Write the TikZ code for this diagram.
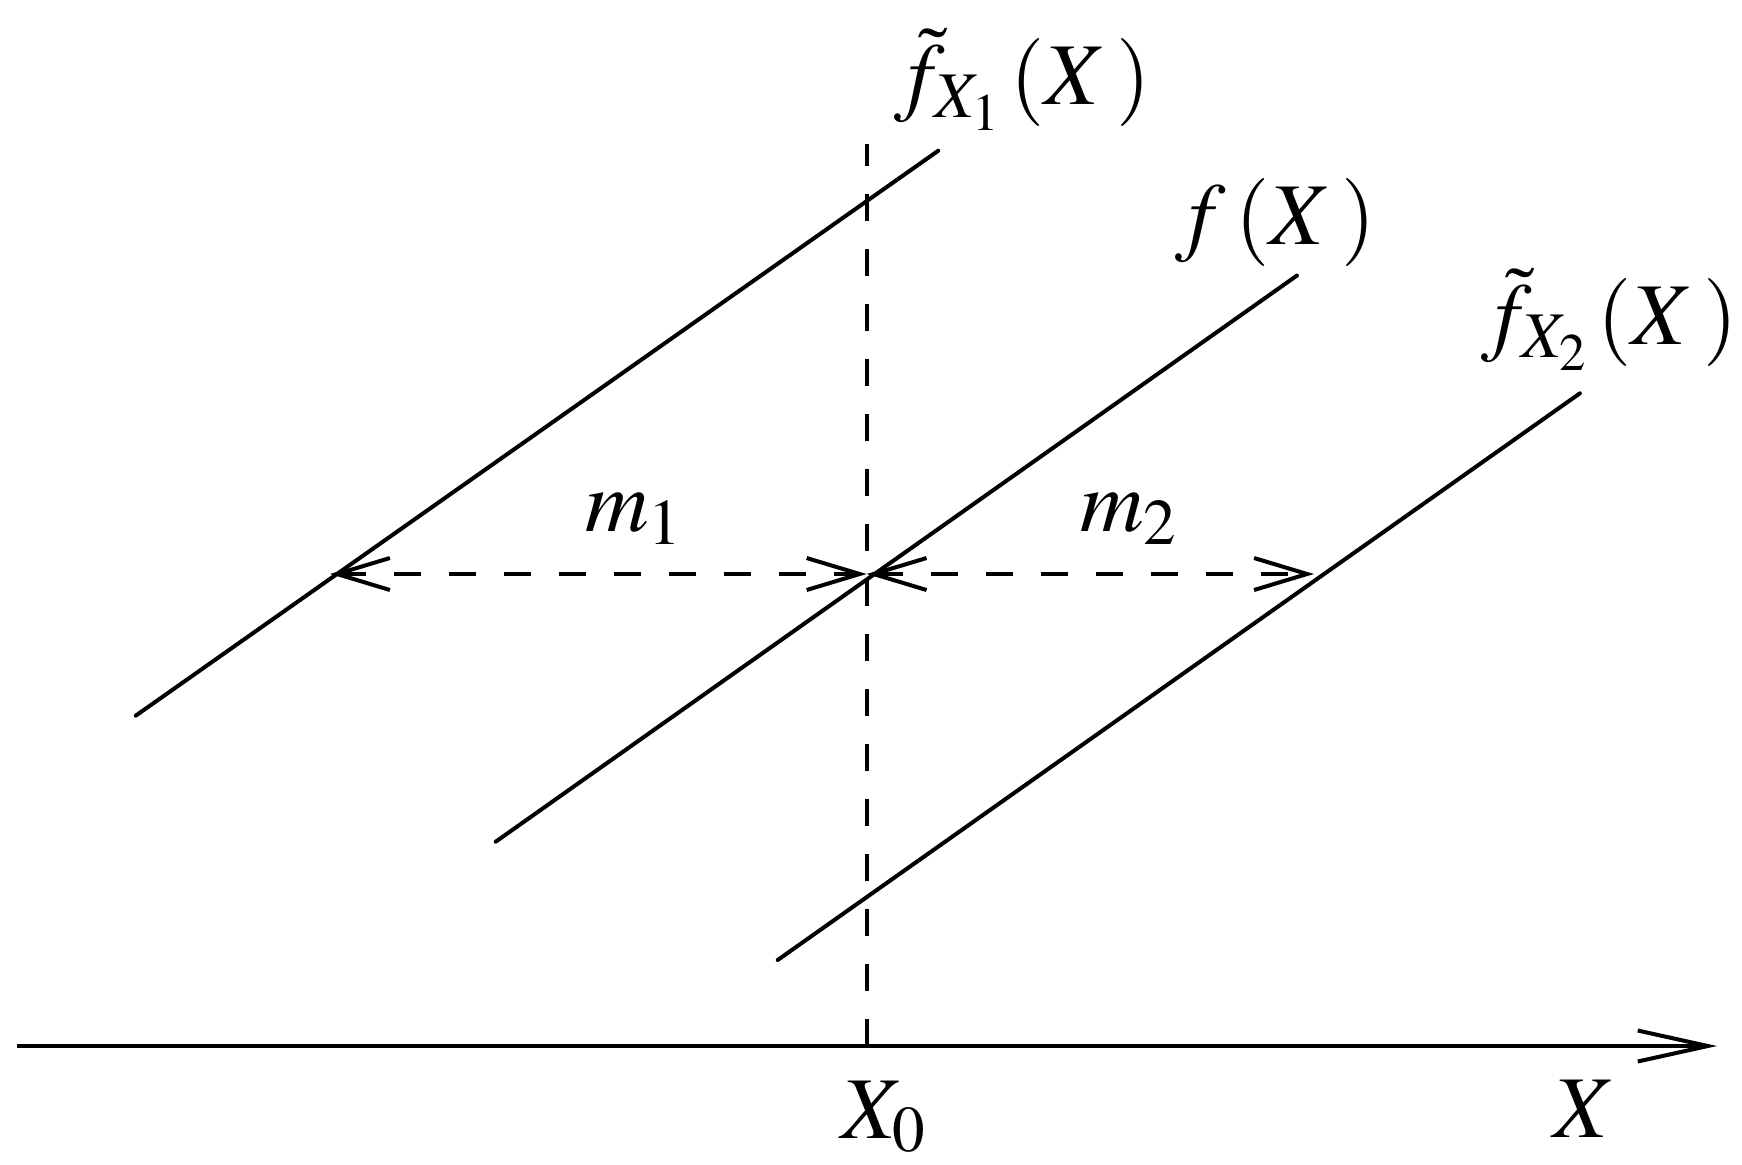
\documentclass[tikz,border=0pt]{standalone}
\usepackage{mathptmx}
\usetikzlibrary{arrows.meta}
\begin{document}
\begin{tikzpicture}[x=0.5pt,y=-0.5pt,
  ln/.style={line width=2pt},
  dsh/.style={line width=2pt, dash pattern=on 13.5pt off 14pt},
  hd/.tip={Straight Barb[length=26.5pt,width=16pt,line width=2pt]},
  ax/.tip={Straight Barb[length=35pt,width=15.5pt,line width=2pt]},
  lbl/.style={anchor=base west, inner sep=0pt, font=\fontsize{44}{52}\selectfont}]
\useasboundingbox (0,0) rectangle (1742,1164);
% coordinates
\coordinate (axL) at (17,1046);
\coordinate (axR) at (1717,1046);
\coordinate (vT) at (866.6,144);
\coordinate (vB) at (866.6,1046);
\coordinate (a1) at (135.7,715.7);
\coordinate (b1) at (938.3,150.7);
\coordinate (a2) at (495.7,841.7);
\coordinate (b2) at (1297,275.5);
\coordinate (a3) at (777.7,960);
\coordinate (b3) at (1579.9,393.3);
\coordinate (p1) at (330,574);
\coordinate (p0) at (866.6,574);
\coordinate (p2) at (1314,574);
% axis
\draw[ln,-{ax}] (axL) -- (axR);
\draw[dsh] (vB) -- (vT);
% lines
\draw[ln,line cap=round] (a1) -- (b1);
\draw[ln,line cap=round] (a2) -- (b2);
\draw[ln,line cap=round] (a3) -- (b3);
% distance arrows
\draw[dsh,{hd}-{hd}] (p1) -- (p0);
\draw[dsh,{hd}-{hd}] (p0) -- (p2);
% labels
\node[lbl] (l1) at (894,104) {$\tilde{f}_{X_1}\,(X\mkern2mu)$};
\node[lbl] (l2) at (1175,244) {$f\,(X\mkern2mu)$};
\node[lbl] (l3) at (1481,344) {$\tilde{f}_{X_2}\,(X\mkern2mu)$};
\node[lbl] (m1) at (585,531) {$m_1$};
\node[lbl] (m2) at (1080,531) {$m_2$};
\node[lbl] (x0) at (841,1138) {$X_0$};
\node[lbl] (xx) at (1553,1137) {$X$};
\end{tikzpicture}
\end{document}
